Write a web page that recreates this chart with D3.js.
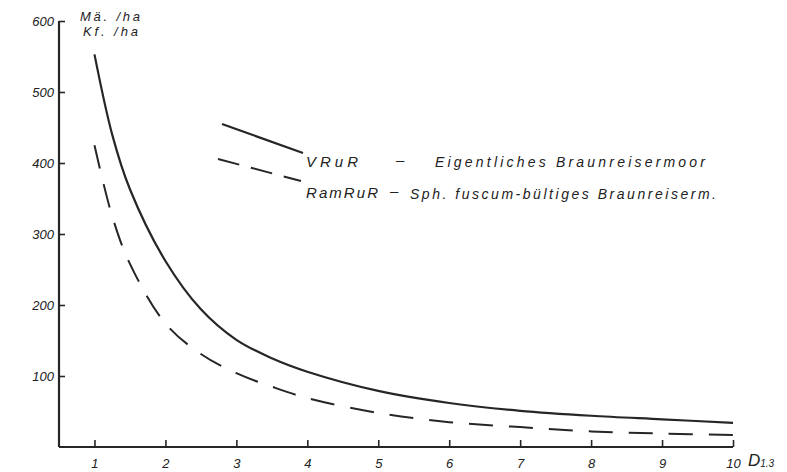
<!DOCTYPE html>
<html>
<head>
<meta charset="utf-8">
<script src="https://cdn.jsdelivr.net/npm/d3@7"></script>
<style>
  body { margin: 0; background: #fff; }
  svg { display: block; }
  .lbl { font-family: "Liberation Sans", sans-serif; font-style: italic; fill: #222; }
</style>
</head>
<body>
<svg id="chart"></svg>
<script>
const diameters = [1, 1.25, 1.5, 2, 2.5, 3, 3.5, 4, 5, 6, 7, 8, 9, 10];
const vruR = [553, 440, 363, 262, 194, 151, 125, 106, 79, 62, 51, 44, 39, 34];
const ramRuR = [425, 325, 258, 174, 131, 104, 85, 69, 48, 35, 28, 22, 19, 17];
const xTicks = [1, 2, 3, 4, 5, 6, 7, 8, 9, 10];
const yTicks = [100, 200, 300, 400, 500, 600];

const width = 787, height = 472;
const ink = "#262626";

const svg = d3.select("#chart")
  .attr("width", width)
  .attr("height", height);

const x = d3.scaleLinear().domain([0.5, 10]).range([59, 733]);
const y = d3.scaleLinear().domain([0, 600]).range([447, 21]);

// axes
const xAxis = d3.axisBottom(x).tickValues(xTicks).tickSize(-7).tickPadding(12).tickSizeOuter(0);
const yAxis = d3.axisLeft(y).tickValues(yTicks).tickSize(-6).tickPadding(5).tickSizeOuter(0);

const gx = svg.append("g")
  .attr("transform", "translate(0," + y(0) + ")")
  .call(xAxis);
const gy = svg.append("g")
  .attr("transform", "translate(" + x(0.5) + ",0)")
  .call(yAxis);

[gx, gy].forEach(g => {
  g.select(".domain").attr("stroke", ink).attr("stroke-width", 2.2);
  g.selectAll(".tick line").attr("stroke", ink).attr("stroke-width", 1.6);
  g.selectAll(".tick text")
    .attr("class", "lbl")
    .attr("font-size", 13)
    .attr("fill", ink);
});
gy.select(".domain").attr("d", "M0," + y(0) + "V" + y(600));
gx.select(".domain").attr("d", "M" + x(0.5) + ",0H" + x(10));
gy.selectAll(".tick text").attr("dy", "0.35em");

// x axis title D1.3
const dt = svg.append("text").attr("class", "lbl")
  .attr("x", 748).attr("y", 466).attr("font-size", 17);
dt.append("tspan").text("D");
dt.append("tspan").attr("font-size", 10).attr("dy", 1).text("1.3");

// y axis unit labels
svg.append("text").attr("class", "lbl").attr("x", 80).attr("y", 21)
  .attr("font-size", 13).attr("textLength", 60).text("Mä. /ha");
svg.append("text").attr("class", "lbl").attr("x", 83).attr("y", 36)
  .attr("font-size", 13).attr("textLength", 55).text("Kf. /ha");

// curves
const line = d3.line()
  .x((d, i) => x(diameters[i]))
  .y(d => y(d))
  .curve(d3.curveCatmullRom.alpha(0.5));

svg.append("path")
  .attr("d", line(vruR))
  .attr("fill", "none")
  .attr("stroke", ink)
  .attr("stroke-width", 2.2);

svg.append("path")
  .attr("d", line(ramRuR))
  .attr("fill", "none")
  .attr("stroke", ink)
  .attr("stroke-width", 2)
  .attr("stroke-dasharray", "24,16");

// legend
svg.append("line")
  .attr("x1", 222).attr("y1", 124).attr("x2", 303).attr("y2", 153)
  .attr("stroke", ink).attr("stroke-width", 2.2);
svg.append("line")
  .attr("x1", 218).attr("y1", 159).attr("x2", 301).attr("y2", 181)
  .attr("stroke", ink).attr("stroke-width", 2)
  .attr("stroke-dasharray", "22,12");

svg.append("text").attr("class", "lbl").attr("x", 306).attr("y", 167)
  .attr("font-size", 15).attr("textLength", 52).text("VRuR");
svg.append("text").attr("class", "lbl").attr("x", 396).attr("y", 165)
  .attr("font-size", 15).text("–");
svg.append("text").attr("class", "lbl").attr("x", 435).attr("y", 167)
  .attr("font-size", 14).attr("textLength", 270).text("Eigentliches Braunreisermoor");

svg.append("text").attr("class", "lbl").attr("x", 306).attr("y", 198)
  .attr("font-size", 15).attr("textLength", 72).text("RamRuR");
svg.append("text").attr("class", "lbl").attr("x", 390).attr("y", 196)
  .attr("font-size", 15).text("–");
svg.append("text").attr("class", "lbl").attr("x", 410).attr("y", 199)
  .attr("font-size", 14).attr("textLength", 306).text("Sph. fuscum-bültiges Braunreiserm.");
</script>
</body>
</html>
